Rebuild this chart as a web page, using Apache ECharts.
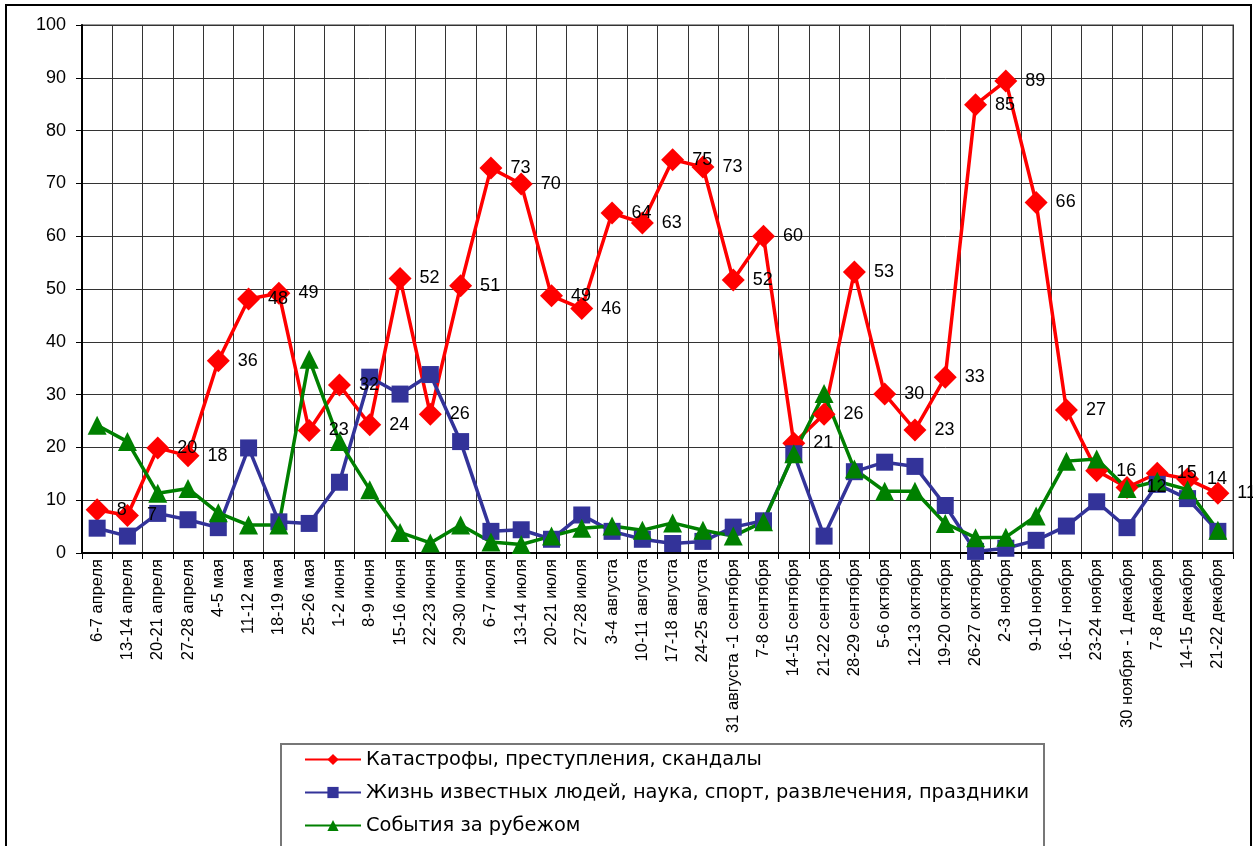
<!DOCTYPE html>
<html><head><meta charset="utf-8">
<script src="https://cdn.jsdelivr.net/npm/echarts@6/dist/echarts.min.js"></script>
<style>html,body{margin:0;padding:0;background:#fff}#c{width:1253px;height:846px}</style>
</head><body><div id="c"></div><script>
const categories = ['6-7 апреля','13-14 апреля','20-21 апреля','27-28 апреля','4-5 мая','11-12 мая','18-19 мая','25-26 мая','1-2 июня','8-9 июня','15-16 июня','22-23 июня','29-30 июня','6-7 июля','13-14 июля','20-21 июля','27-28 июля','3-4 августа','10-11 августа','17-18 августа','24-25 августа','31 августа -1 сентября','7-8 сентября','14-15 сентября','21-22 сентября','28-29 сентября','5-6 октября','12-13 октября','19-20 октября','26-27 октября','2-3 ноября','9-10 ноября','16-17 ноября','23-24 ноября','30 ноября - 1 декабря','7-8 декабря','14-15 декабря','21-22 декабря'];
const seriesNames = ['Катастрофы, преступления, скандалы','Жизнь известных людей, наука, спорт, развлечения, праздники','События за рубежом'];
const disasters = [8.2,7.1,19.9,18.4,36.4,48.1,49.2,23.2,31.8,24.3,52.0,26.3,50.6,72.9,69.9,48.7,46.3,64.4,62.5,74.5,73.1,51.7,60.0,20.8,26.3,53.2,30.1,23.3,33.3,84.9,89.4,66.4,27.1,15.6,12.4,15.1,14.0,11.3];
const celebrities = [4.7,3.2,7.5,6.3,4.8,19.9,5.9,5.6,13.4,33.3,30.1,33.8,21.1,4.1,4.4,2.6,7.2,4.1,2.6,1.8,2.2,4.9,6.1,18.8,3.2,15.4,17.2,16.4,9.0,0.3,0.9,2.4,5.1,9.7,4.8,13.0,10.3,4.1];
const abroad = [24.2,21.1,11.3,12.2,7.6,5.3,5.3,36.7,21.1,12.0,3.9,1.9,5.3,2.1,1.6,3.2,4.7,5.1,4.3,5.7,4.3,3.2,5.9,18.8,30.2,15.9,11.7,11.7,5.6,2.9,3.0,7.0,17.4,17.8,12.2,13.6,12.0,4.3];

const FONT = '"Liberation Sans", Arial, sans-serif';
const chart = echarts.init(document.getElementById('c'));
chart.setOption({
  animation: false,
  backgroundColor: '#fff',
  textStyle: { fontFamily: FONT },
  grid: { left: 82, right: 20, top: 25, bottom: 293, show: true, borderColor: '#9a9a9a', borderWidth: 2 },
  xAxis: {
    type: 'category', data: categories, boundaryGap: true,
    axisLine: { lineStyle: { color: '#000', width: 2 } },
    axisTick: { show: true, interval: 0, length: 6, lineStyle: { color: '#000' } },
    axisLabel: { interval: 0, rotate: 90, fontSize: 16.5, color: '#000', margin: 6, fontFamily: FONT },
    splitLine: { show: true, interval: 0, lineStyle: { color: '#333', width: 1 } }
  },
  yAxis: {
    type: 'value', min: 0, max: 100, interval: 10,
    axisLine: { show: true, lineStyle: { color: '#000', width: 2 } },
    axisTick: { show: true, length: 6, lineStyle: { color: '#000' } },
    axisLabel: { fontSize: 18, color: '#000', margin: 16, fontFamily: FONT },
    splitLine: { show: true, lineStyle: { color: '#333', width: 1 } }
  },
  legend: {
    orient: 'vertical', left: 304, top: 750, itemWidth: 56, itemHeight: 14, itemGap: 14,
    padding: 0, data: seriesNames,
    textStyle: { fontSize: 19.4, color: '#000', fontFamily: '"DejaVu Sans", sans-serif', padding: [0, 0, 0, 0] }
  },
  graphic: [
    { type: 'rect', silent: true, z: 100, shape: { x: 6, y: 5, width: 1245, height: 860 }, style: { fill: 'none', stroke: '#000', lineWidth: 2 } },
    { type: 'rect', silent: true, z: 100, shape: { x: 281, y: 744, width: 763, height: 120 }, style: { fill: 'none', stroke: '#777', lineWidth: 2 } }
  ],
  series: [
    {
      name: seriesNames[0], type: 'line', data: disasters,
      symbol: 'diamond', symbolSize: 23,
      lineStyle: { color: '#ff0000', width: 3.5 }, itemStyle: { color: '#ff0000' },
      label: { show: true, position: 'right', distance: 8, fontSize: 18, color: '#000', fontFamily: FONT,
        formatter: p => Math.round(p.value) }
    },
    {
      name: seriesNames[1], type: 'line', data: celebrities,
      symbol: 'rect', symbolSize: 17,
      lineStyle: { color: '#333399', width: 3.5 }, itemStyle: { color: '#333399' }
    },
    {
      name: seriesNames[2], type: 'line', data: abroad,
      symbol: 'triangle', symbolSize: 19,
      lineStyle: { color: '#008000', width: 3.5 }, itemStyle: { color: '#008000' }
    }
  ]
});
</script></body></html>
